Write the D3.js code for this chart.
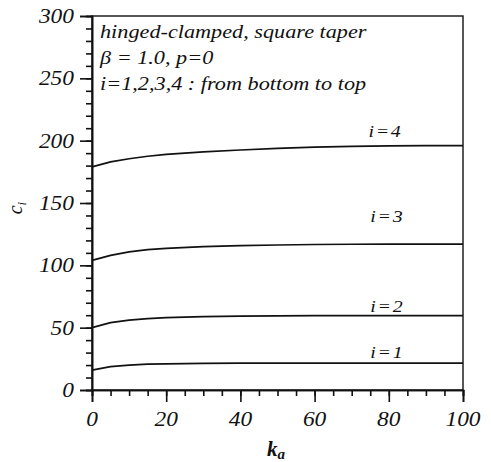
<!DOCTYPE html>
<html><head><meta charset="utf-8">
<script src="https://cdn.jsdelivr.net/npm/d3@7"></script>
</head>
<body style="margin:0;background:#fff">
<svg id="chart" width="491" height="462" style="display:block"></svg>
<script>
// ---- data ----
const ka = [0, 5, 10, 15, 20, 30, 40, 50, 60, 70, 80, 90, 100];
const c1 = [16, 18.7, 20, 20.8, 21, 21.3, 21.5, 21.6, 21.6, 21.6, 21.6, 21.6, 21.6];
const c2 = [50, 54, 56, 57.3, 58, 58.8, 59.3, 59.5, 59.6, 59.6, 59.6, 59.6, 59.6];
const c3 = [104, 108, 110.8, 112.6, 113.6, 115, 115.8, 116.3, 116.7, 116.9, 117, 117, 117];
const c4 = [179, 183, 185.5, 187.5, 189, 191, 192.5, 193.8, 194.8, 195.4, 195.8, 196, 196];
const seriesNames = ["i=1", "i=2", "i=3", "i=4"];
const labelK = [75, 75, 75, 74.5];
const labelC = [25.7, 62.5, 134.5, 203];
const xTicks = [0, 20, 40, 60, 80, 100];
const xMinor = d3.range(0, 101, 5);
const yTicks = [0, 50, 100, 150, 200, 250, 300];
const yMinor = d3.range(0, 301, 10);
const notes = ["hinged-clamped, square taper", "β = 1.0, p=0", "i=1,2,3,4 : from bottom to top"];

// ---- layout ----
const L = 92, R = 463, T = 16, B = 390;
const SX = 1.17; // horizontal glyph stretch of the original typesetting
const FONT = "Liberation Serif";
const svg = d3.select("#chart");
const x = d3.scaleLinear().domain([0, 100]).range([L, R]);
const y = d3.scaleLinear().domain([0, 300]).range([B, T]);

function txt(px, py, str, size, anchor, spacing) {
  const t = svg.append("text")
    .attr("x", px).attr("y", py)
    .attr("font-family", FONT)
    .attr("font-style", "italic")
    .attr("fill", "#111")
    .attr("font-size", size)
    .attr("text-anchor", anchor || "start")
    .attr("letter-spacing", spacing || 0)
    .text(str);
  const w = t.node().getComputedTextLength();
  t.attr("textLength", w * SX).attr("lengthAdjust", "spacingAndGlyphs");
  return t;
}

// frame
svg.append("rect").attr("x", L).attr("y", T).attr("width", R - L).attr("height", B - T)
  .attr("fill", "none").attr("stroke", "#111").attr("stroke-width", 1.4);

// axes (major + minor)
const gx = svg.append("g").attr("transform", `translate(0,${B})`);
gx.call(d3.axisBottom(x).tickValues(xMinor).tickSize(6).tickFormat(""));
gx.append("g").call(d3.axisBottom(x).tickValues(xTicks).tickSize(12).tickFormat(""));
const gy = svg.append("g").attr("transform", `translate(${L},0)`);
gy.call(d3.axisLeft(y).tickValues(yMinor).tickSize(6).tickFormat(""));
gy.append("g").call(d3.axisLeft(y).tickValues(yTicks).tickSize(12).tickFormat(""));
svg.selectAll(".domain").attr("stroke", "#111").attr("stroke-width", 1.6);
svg.selectAll(".tick line").attr("stroke", "#111").attr("stroke-width", 1.6);

// tick labels
xTicks.forEach(v => txt(x(v), 426, String(v), 20, "middle"));
yTicks.forEach(v => txt(74, y(v) + 7, String(v), 20, "end"));

// curves
const line = d3.line().x((d, i) => x(ka[i])).y(d => y(d));
[c1, c2, c3, c4].forEach(s => {
  svg.append("path").attr("d", line(s)).attr("fill", "none")
    .attr("stroke", "#111").attr("stroke-width", 1.7);
});

// curve labels
seriesNames.forEach((n, i) => txt(x(labelK[i]), y(labelC[i]), n, 17, "start", 1.5));

// annotation
notes.forEach((n, i) => txt(100, 38 + i * 26, n, 19, "start"));

// axis titles
svg.append("text")
  .attr("transform", "translate(22,208) rotate(-90)")
  .attr("font-family", FONT).attr("font-style", "italic").attr("fill", "#111")
  .attr("font-size", 20).attr("text-anchor", "middle")
  .call(t => {
    t.append("tspan").text("c");
    t.append("tspan").attr("font-size", 13).attr("dy", 4).text("i");
  });
svg.append("text")
  .attr("x", 267).attr("y", 456)
  .attr("font-family", FONT).attr("font-style", "italic").attr("fill", "#111")
  .attr("font-size", 21).attr("font-weight", "bold")
  .call(t => {
    t.append("tspan").text("k");
    t.append("tspan").attr("font-size", 15).attr("dy", 3).text("a");
  });
</script>
</body></html>
